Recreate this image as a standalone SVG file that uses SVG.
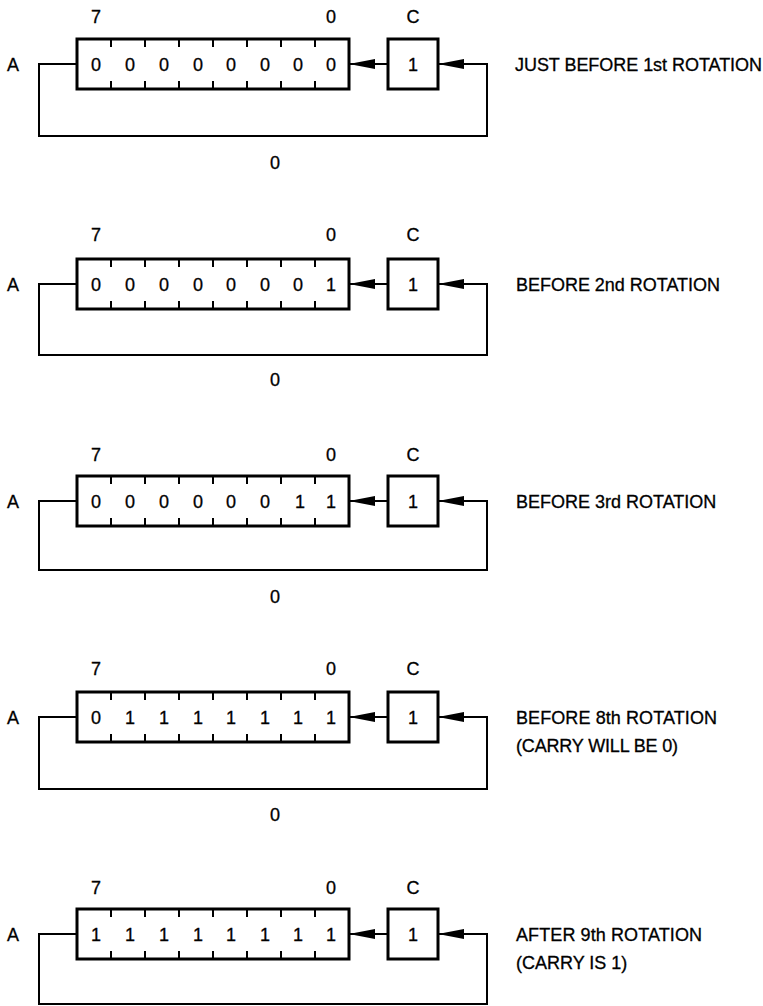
<svg xmlns="http://www.w3.org/2000/svg" width="763" height="1006" viewBox="0 0 763 1006">
<style>
.box{fill:#fff;stroke:#000;stroke-width:3}
.tick{stroke:#000;stroke-width:2}
.wire{fill:none;stroke:#000;stroke-width:2}
text{font-family:"Liberation Sans",Arial,sans-serif;font-size:18px;fill:#000;stroke:#000;stroke-width:0.3}
.c{text-anchor:middle}
.cap{font-size:18px}
</style>
<defs>
<marker id="arr" viewBox="0 0 26 10" refX="26" refY="5" markerWidth="26" markerHeight="10" markerUnits="userSpaceOnUse" orient="auto">
<path d="M0,0 L26,5 L0,10 z" fill="#000"/>
</marker>
<g id="ticks">
<path class="tick" d="M111,0V8M145,0V8M179,0V8M213,0V8M247,0V8M281,0V8M315,0V8M111,42V50M145,42V50M179,42V50M213,42V50M247,42V50M281,42V50M315,42V50"/>
</g>
</defs>

<g id="connectors">
<g transform="translate(0,39)">
<path class="wire" d="M77,25H39V97H487V25H438" marker-end="url(#arr)"/>
<path class="wire" d="M388,25H349" marker-end="url(#arr)"/>
<text class="c" x="275" y="130">0</text>
</g>
<g transform="translate(0,259)">
<path class="wire" d="M77,25H39V96H487V25H438" marker-end="url(#arr)"/>
<path class="wire" d="M388,25H349" marker-end="url(#arr)"/>
<text class="c" x="275" y="127">0</text>
</g>
<g transform="translate(0,476)">
<path class="wire" d="M77,25H39V94H487V25H438" marker-end="url(#arr)"/>
<path class="wire" d="M388,25H349" marker-end="url(#arr)"/>
<text class="c" x="275" y="127">0</text>
</g>
<g transform="translate(0,692)">
<path class="wire" d="M77,25H39V97H487V25H438" marker-end="url(#arr)"/>
<path class="wire" d="M388,25H349" marker-end="url(#arr)"/>
<text class="c" x="275" y="129">0</text>
</g>
<g transform="translate(0,909)">
<path class="wire" d="M77,25H39V95H487V25H438" marker-end="url(#arr)"/>
<path class="wire" d="M388,25H349" marker-end="url(#arr)"/>
</g>
</g>

<g id="row1" transform="translate(0,39)">
<g id="reg1">
<text x="13" y="32" class="c">A</text>
<text x="96" y="-16" class="c">7</text>
<text x="331" y="-16" class="c">0</text>
<rect class="box" x="77" y="0" width="272" height="50"/>
<use href="#ticks"/>
<text class="c" y="32"><tspan x="96">0</tspan><tspan x="130">0</tspan><tspan x="164">0</tspan><tspan x="198">0</tspan><tspan x="231">0</tspan><tspan x="265">0</tspan><tspan x="298">0</tspan><tspan x="331">0</tspan></text>
</g>
<g id="carry1">
<text x="413" y="-16" class="c">C</text>
<rect class="box" x="388" y="0" width="50" height="50"/>
<text x="413" y="32" class="c">1</text>
</g>
<text id="cap1" class="cap" x="515" y="32" textLength="247">JUST BEFORE 1st ROTATION</text>
</g>

<g id="row2" transform="translate(0,259)">
<g id="reg2">
<text x="13" y="32" class="c">A</text>
<text x="96" y="-18" class="c">7</text>
<text x="331" y="-18" class="c">0</text>
<rect class="box" x="77" y="0" width="272" height="50"/>
<use href="#ticks"/>
<text class="c" y="32"><tspan x="96">0</tspan><tspan x="130">0</tspan><tspan x="164">0</tspan><tspan x="198">0</tspan><tspan x="231">0</tspan><tspan x="265">0</tspan><tspan x="298">0</tspan><tspan x="331">1</tspan></text>
</g>
<g id="carry2">
<text x="413" y="-18" class="c">C</text>
<rect class="box" x="388" y="0" width="50" height="50"/>
<text x="413" y="32" class="c">1</text>
</g>
<text id="cap2" class="cap" x="516" y="32" textLength="204">BEFORE 2nd ROTATION</text>
</g>

<g id="row3" transform="translate(0,476)">
<g id="reg3">
<text x="13" y="32" class="c">A</text>
<text x="96" y="-15" class="c">7</text>
<text x="331" y="-15" class="c">0</text>
<rect class="box" x="77" y="0" width="272" height="50"/>
<use href="#ticks"/>
<text class="c" y="32"><tspan x="96">0</tspan><tspan x="130">0</tspan><tspan x="164">0</tspan><tspan x="198">0</tspan><tspan x="231">0</tspan><tspan x="265">0</tspan><tspan x="300">1</tspan><tspan x="331">1</tspan></text>
</g>
<g id="carry3">
<text x="413" y="-15" class="c">C</text>
<rect class="box" x="388" y="0" width="50" height="50"/>
<text x="413" y="32" class="c">1</text>
</g>
<text id="cap3" class="cap" x="516" y="32">BEFORE 3rd ROTATION</text>
</g>

<g id="row4" transform="translate(0,692)">
<g id="reg4">
<text x="13" y="32" class="c">A</text>
<text x="96" y="-17" class="c">7</text>
<text x="331" y="-17" class="c">0</text>
<rect class="box" x="77" y="0" width="272" height="50"/>
<use href="#ticks"/>
<text class="c" y="32"><tspan x="96">0</tspan><tspan x="130">1</tspan><tspan x="164">1</tspan><tspan x="198">1</tspan><tspan x="231">1</tspan><tspan x="265">1</tspan><tspan x="298">1</tspan><tspan x="331">1</tspan></text>
</g>
<g id="carry4">
<text x="413" y="-17" class="c">C</text>
<rect class="box" x="388" y="0" width="50" height="50"/>
<text x="413" y="32" class="c">1</text>
</g>
<text id="cap4" class="cap" x="516" y="32" textLength="201">BEFORE 8th ROTATION</text>
<text id="cap4b" class="cap" x="516" y="60" textLength="162">(CARRY WILL BE 0)</text>
</g>

<g id="row5" transform="translate(0,909)">
<g id="reg5">
<text x="13" y="32" class="c">A</text>
<text x="96" y="-15" class="c">7</text>
<text x="331" y="-15" class="c">0</text>
<rect class="box" x="77" y="0" width="272" height="50"/>
<use href="#ticks"/>
<text class="c" y="32"><tspan x="96">1</tspan><tspan x="130">1</tspan><tspan x="164">1</tspan><tspan x="198">1</tspan><tspan x="231">1</tspan><tspan x="265">1</tspan><tspan x="298">1</tspan><tspan x="331">1</tspan></text>
</g>
<g id="carry5">
<text x="413" y="-15" class="c">C</text>
<rect class="box" x="388" y="0" width="50" height="50"/>
<text x="413" y="32" class="c">1</text>
</g>
<text id="cap5" class="cap" x="516" y="32" textLength="186">AFTER 9th ROTATION</text>
<text id="cap5b" class="cap" x="516" y="60">(CARRY IS 1)</text>
</g>
</svg>
